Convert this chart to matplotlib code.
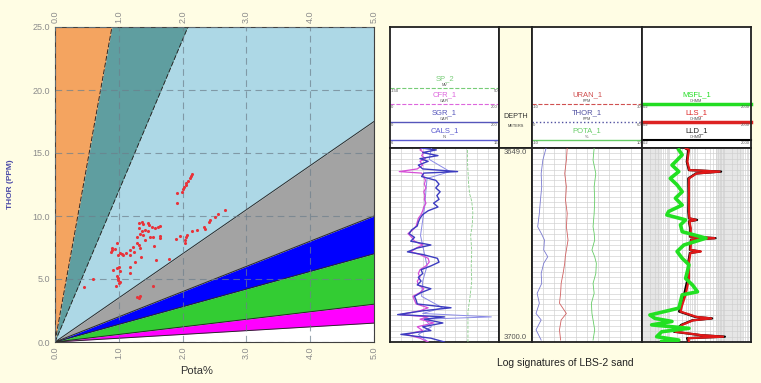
import matplotlib.pyplot as plt
import numpy as np

plt.rcParams['font.family'] = ['Liberation Sans', 'DejaVu Sans']

W, H = 761, 383
BG = '#fffde4'

# ---- Th/K crossplot: zone ratios (Th ppm / K %) and colours, top to bottom
zone_upper = [np.inf, 28.0, 12.0, 3.5, 2.0, 1.4, 0.6, 0.3]
zone_lower = [28.0, 12.0, 3.5, 2.0, 1.4, 0.6, 0.3, 0.0]
zone_colors = ['#f4a460', '#5f9ea0', '#add8e6', '#a3a3a3', '#0000ff',
               '#33cc33', '#ff00ff', '#ffffff']

pota = [2.14, 2.13, 2.11, 2.09, 2.06, 2.05, 2.02, 2.00, 1.99, 1.91, 1.92,
        2.66, 2.56, 2.51, 2.43, 2.41, 2.34, 2.35, 2.22, 2.14, 2.07, 2.06, 2.04, 1.96, 1.90, 2.03,
        1.31, 1.36, 1.38, 1.46, 1.48, 1.52, 1.57, 1.62, 1.65, 1.32, 1.36, 1.41, 1.46, 1.38,
        1.33, 1.29, 1.49, 1.54, 1.65, 1.64, 1.41, 1.28, 1.31, 1.23, 1.18, 1.12, 1.07, 1.05,
        1.18, 1.24, 1.33, 1.35, 1.55, 1.58, 1.79,
        0.89, 0.90, 0.87, 0.94, 0.97, 1.02, 0.99, 0.91, 0.97, 1.01, 1.02, 1.17, 1.17, 1.25,
        0.97, 0.99, 0.98, 1.02, 1.01, 0.96, 0.60, 0.45, 1.54, 1.28, 1.33, 1.31]
thor = [13.31, 13.18, 13.0, 12.81, 12.65, 12.46, 12.33, 12.12, 11.94, 11.8, 11.06,
        10.48, 10.17, 9.95, 9.69, 9.56, 9.16, 8.98, 8.85, 8.77, 8.50, 8.32, 8.11, 8.43, 8.19, 7.89,
        9.43, 9.56, 9.37, 9.48, 9.27, 9.16, 9.03, 9.16, 9.22, 9.03, 8.77, 8.85, 8.77, 8.50,
        8.58, 8.37, 8.37, 8.32, 8.43, 8.29, 8.11, 7.89, 7.71, 7.53, 7.31, 7.10, 6.92, 7.0,
        6.92, 7.18, 7.45, 6.78, 7.63, 6.52, 6.62,
        7.45, 7.31, 7.18, 7.37, 7.84, 7.05, 6.92, 5.73, 5.86, 5.94, 5.60, 5.99, 5.47, 6.31,
        5.20, 5.07, 4.94, 4.80, 4.68, 4.46, 5.0, 4.4, 4.41, 3.61, 3.67, 3.49]

# ---- log track 1
t1_depth = [3649.0, 3649.5, 3650.2, 3651.0, 3651.8, 3652.5, 3653.5, 3654.5, 3655.2, 3655.6,
            3656.5, 3657.5, 3658.5, 3659.5, 3660.5, 3661.5, 3662.5, 3663.5, 3664.5, 3665.5,
            3666.5, 3667.5, 3668.5, 3669.5, 3670.5, 3671.5, 3672.5, 3673.5, 3674.5, 3675.3,
            3676.3, 3677.0, 3678.0, 3679.0, 3680.0, 3681.0, 3682.0, 3683.0, 3684.0, 3685.0,
            3686.0, 3687.0, 3688.0, 3689.0, 3690.0, 3691.0, 3691.8, 3692.8, 3693.4, 3694.0,
            3695.0, 3696.0, 3697.0, 3698.0, 3699.0, 3700.0]
sgr = [57, 85, 60, 88, 55, 70, 52, 60, 124, 62, 58, 84, 90, 84, 92, 86, 90, 80, 88, 70,
       60, 55, 52, 50, 40, 35, 45, 38, 75, 50, 32, 60, 87, 90, 75, 57, 60, 52, 57, 50,
       75, 57, 45, 48, 50, 112, 60, 14, 100, 63, 97, 60, 75, 20, 75, 100]
cfr = [60, 55, 62, 58, 65, 55, 60, 50, 17, 58, 62, 65, 63, 66, 62, 64, 63, 66, 62, 60,
       57, 52, 50, 48, 42, 33, 40, 45, 60, 48, 38, 55, 70, 72, 66, 55, 52, 55, 50, 52,
       62, 55, 42, 45, 48, 70, 55, 18, 70, 55, 80, 50, 60, 30, 55, 70]
cals_depth = [3649, 3652, 3655.2, 3657, 3660, 3664, 3668, 3672, 3676, 3680, 3684, 3688,
              3691, 3692.5, 3693.4, 3694, 3696, 3698, 3700]
cals = [9.8, 9.6, 11.5, 9.4, 9.3, 9.2, 9.0, 8.8, 9.1, 9.4, 9.0, 8.9, 10.8, 9.0, 15.3,
        9.2, 9.8, 8.6, 9.5]
sp_depth = [3649.5, 3652, 3655, 3658, 3661, 3663, 3666, 3669, 3672, 3676, 3680, 3684,
            3688, 3692, 3696, 3700]
sp = [-8, -8, -7, -6, -4, 0, 2, 1, -2, 0, -1, 0, -3, -7, -7, -7]

# ---- log track 2
t2_depth = [3649.0, 3652.2, 3655.7, 3659.2, 3662.7, 3666.2, 3669.7, 3671.4, 3673.2, 3675.8,
            3677.6, 3679.3, 3682.0, 3684.6, 3687.2, 3689.8, 3692.5, 3694.2, 3696.8, 3699.5]
thor_log = [7.7, 5.9, 5.0, 5.3, 4.6, 4.0, 3.1, 5.0, 6.8, 6.4, 8.6, 6.4, 5.0, 5.3, 2.8,
            4.0, 2.2, 5.0, 2.2, 5.0]
uran = [2.8, 2.5, 1.9, 2.5, 2.2, 2.8, 2.5, 2.8, 3.1, 2.5, 2.1, 1.9, 1.3, 0.6, 0.4, 0.0,
        2.5, 0.6, 0.0, 0.4]
pota_log = [1.3, 1.1, 1.6, 1.3, 1.4, 1.3, 1.1, 1.3, 1.4, 0.9, 1.4, 1.7, 1.6, 1.1, 1.3,
            0.8, 0.9, 1.1, 1.4, 1.1]

# ---- log track 3 (resistivity)
rt_depth = [3649.0, 3649.5, 3652.6, 3654.8, 3655.2, 3655.7, 3657.0, 3661.4, 3665.7, 3667.5,
            3667.9, 3668.3, 3670.1, 3672.3, 3672.7, 3673.1, 3674.5, 3675.8, 3676.2, 3676.6,
            3678.9, 3683.3, 3687.6, 3690.3, 3692.0, 3693.4, 3693.8, 3694.3, 3695.5, 3697.3,
            3698.2, 3698.6, 3699.0, 3700.0]
lls = [8.0, 10.6, 9.2, 11, 141, 20, 10.6, 10.6, 10.6, 11, 19, 11, 12.3, 12, 92, 13, 12.3,
       12, 29, 12, 10.6, 10.6, 7.96, 5.97, 5.17, 20, 69, 15, 5.97, 3.36, 30, 189, 10, 10.6]
lld = [7.5, 10.0, 8.8, 10.5, 160, 19, 10.0, 10.2, 10.0, 10.5, 21, 10.5, 11.8, 11.5, 100,
       12.5, 11.8, 11.5, 27, 11.5, 10.0, 9.5, 7.0, 5.2, 4.6, 18, 75, 14, 5.5, 3.0, 28, 220, 9, 10]
msfl_depth = [3649.5, 3650.8, 3652.6, 3653.5, 3655.2, 3657.0, 3658.7, 3660.5, 3662.2, 3664.0,
              3665.7, 3666.6, 3667.9, 3669.2, 3671.0, 3672.7, 3674.5, 3676.2, 3678.0, 3679.7,
              3681.5, 3683.3, 3685.0, 3686.8, 3687.6, 3689.4, 3691.1, 3692.9, 3693.8, 3694.6,
              3695.5, 3696.4, 3697.3, 3698.6, 3699.5, 3699.9]
msfl = [4.48, 5.97, 3.4, 2.52, 4.48, 2.18, 3.88, 5.97, 3.36, 5.97, 1.89, 1.63, 7.96, 5.17,
        5.97, 44.8, 6.89, 3.88, 5.97, 10.6, 9.2, 7.96, 14.2, 21.8, 5.97, 5.17, 4.48, 0.39,
        0.60, 2.52, 0.45, 10.6, 1.06, 0.69, 4.48, 1.06]

# header entries: name, unit, left, right, colour, style, width
track1_hdr = [('SP_2', 'MV', '-150', '50', '#77cc77', '--', 0.8),
              ('CFR_1', 'GAPI', '0', '200', '#dd66dd', '--', 0.8),
              ('SGR_1', 'GAPI', '0', '200', '#5555bb', '-', 1.0),
              ('CALS_1', 'IN', '6', '16', '#5a5ad0', '-', 1.0)]
track2_hdr = [('URAN_1', 'PPM', '-10', '30', '#d05050', '--', 0.8),
              ('THOR_1', 'PPM', '0', '60', '#5050a0', ':', 1.0),
              ('POTA_1', '%', '-10', '10', '#66cc66', '-', 1.0)]
track3_hdr = [('MSFL_1', 'OHMM', '0.2', '2000', '#22dd22', '-', 2.5),
              ('LLS_1', 'OHMM', '0.2', '2000', '#dd2222', '-', 2.5),
              ('LLD_1', 'OHMM', '0.2', '2000', 'black', '-', 1.5)]


def px_rect(x0, y0, x1, y1):
    return [x0 / W, 1 - y1 / H, (x1 - x0) / W, (y1 - y0) / H]


fig = plt.figure(figsize=(W / 100, H / 100), dpi=100)
fig.patch.set_facecolor(BG)

# ================= crossplot =================
ax = fig.add_axes(px_rect(55, 27, 374, 342))
x = np.linspace(0, 5, 1001)
for up, lo, col in zip(zone_upper, zone_lower, zone_colors):
    yhi = np.full_like(x, 25.0) if np.isinf(up) else np.minimum(up * x, 25)
    ylo = np.minimum(lo * x, 25)
    ax.fill_between(x, ylo, yhi, color=col, lw=0, zorder=1)
for r in zone_lower[:-1]:
    ls = (0, (5, 2)) if r > 10 else '-'
    ax.plot(x, r * x, color='#2a2a2a', lw=0.7, ls=ls, zorder=2)
ax.scatter(pota, thor, s=5, color='#e8333a', lw=0, zorder=4)
ax.set_xlim(0, 5)
ax.set_ylim(0, 25)
ax.set_xticks(np.arange(0, 5.1, 1))
ax.set_yticks(np.arange(0, 25.1, 5))
ax.xaxis.set_major_formatter('{x:.1f}')
ax.yaxis.set_major_formatter('{x:.1f}')
ax.set_axisbelow(False)
ax.grid(True, ls=(0, (6, 4)), color='#6d7f8c', lw=0.8, alpha=0.7)
ax.tick_params(axis='both', length=0, labelsize=6.5, labelcolor='#8c8c8c')
ax.tick_params(axis='x', top=True, labeltop=True, labelrotation=90, pad=3)
for s in ax.spines.values():
    s.set_color('#404040')
    s.set_linewidth(0.8)
ax.set_xlabel('Pota%', fontsize=8, color='#333333')
ax.xaxis.set_label_coords(0.445, -0.075)
ax.set_ylabel('THOR (PPM)', fontsize=6, color='#4b4ba8', fontweight='bold')
ax.yaxis.set_label_coords(-0.13, 0.5)

# ================= log panel =================
cols = [(390, 499), (499, 532), (532, 642), (642, 751)]
hdr_top, hdr_bot, dat_bot = 27, 148, 342
rows = [0.496, 0.364, 0.215, 0.066]
depth_grid = np.linspace(3649, 3700, 37)

hdr_axes, dat_axes = [], []
for i, (c0, c1) in enumerate(cols):
    face = BG if i == 1 else 'white'
    ha_ = fig.add_axes(px_rect(c0, hdr_top, c1, hdr_bot))
    da_ = fig.add_axes(px_rect(c0, hdr_bot, c1, dat_bot))
    for a in (ha_, da_):
        a.set_facecolor(face)
        a.set_xticks([])
        a.set_yticks([])
        for s in a.spines.values():
            s.set_linewidth(1.3)
            s.set_color('#202020')
    ha_.set_xlim(0, 1)
    ha_.set_ylim(0, 1)
    da_.set_ylim(3700, 3649)
    hdr_axes.append(ha_)
    dat_axes.append(da_)


def draw_header(a, entries, ys):
    for (name, unit, lo, hi, col, ls, lw), yy in zip(entries, ys):
        a.plot([0, 1], [yy, yy], color=col, ls=ls, lw=lw, clip_on=False)
        a.text(0.5, yy + 0.05, name, fontsize=5.5, color=col if col != 'black' else '#222222',
               ha='center', va='bottom')
        a.text(0.5, yy + 0.008, unit, fontsize=2.8, color='#555555', ha='center', va='bottom')
        a.text(0.01, yy - 0.008, lo, fontsize=3, color='#555555', ha='left', va='top')
        a.text(0.99, yy - 0.008, hi, fontsize=3, color='#555555', ha='right', va='top')


draw_header(hdr_axes[0], track1_hdr, rows)
draw_header(hdr_axes[2], track2_hdr, rows[1:])
draw_header(hdr_axes[3], track3_hdr, rows[1:])
hdr_axes[1].text(0.5, 0.235, 'DEPTH', fontsize=5.2, ha='center', va='bottom', color='#333333')
hdr_axes[1].text(0.5, 0.2, 'METERS', fontsize=2.8, ha='center', va='top', color='#333333')

# depth track
d = dat_axes[1]
d.set_xlim(0, 1)
d.text(0.5, 3649.2, '3649.0', fontsize=5.5, ha='center', va='top', color='#555555')
d.text(0.5, 3699.8, '3700.0', fontsize=5.5, ha='center', va='bottom', color='#555555')


def linear_track(a, rect, curves):
    a.set_xlim(0, 1)
    for gx in np.linspace(0, 1, 11):
        a.axvline(gx, color='#cfcfcf', lw=0.45, zorder=0)
    for gy in depth_grid:
        a.axhline(gy, color='#cfcfcf', lw=0.45, zorder=0)
    for depth, vals, lo, hi, col, ls, lw in curves:
        c = fig.add_axes(rect, sharey=a)
        c.patch.set_visible(False)
        c.set_xlim(lo, hi)
        c.plot(vals, depth, color=col, ls=ls, lw=lw)
        c.set_axis_off()


linear_track(dat_axes[0], px_rect(390, hdr_bot, 499, dat_bot), [
    (sp_depth, sp, -150, 50, '#88cc88', '--', 0.6),
    (cals_depth, cals, 6, 16, '#8a8ae6', '-', 0.7),
    (t1_depth, cfr, 0, 200, '#d64ed6', '-', 0.9),
    (t1_depth, sgr, 0, 200, '#3c3cc0', '-', 1.0),
])
linear_track(dat_axes[2], px_rect(532, hdr_bot, 642, dat_bot), [
    (t2_depth, thor_log, 0, 60, '#7a7ad0', '-', 0.6),
    (t2_depth, uran, -10, 30, '#d06060', '-', 0.6),
    (t2_depth, pota_log, -10, 10, '#66cc66', '-', 0.6),
])

# resistivity track
r = dat_axes[3]
r.set_xscale('log')
r.set_xlim(0.2, 2000)
r.axvspan(0.2, 1, color='#e6e6e6', lw=0, zorder=0)
r.axvspan(100, 1000, color='#e6e6e6', lw=0, zorder=0)
for dec in [0.2, 2, 20, 200]:
    for k in range(1, 10):
        r.axvline(dec * k, color='#cfcfcf', lw=0.45, zorder=0.5)
for gy in depth_grid:
    r.axhline(gy, color='#cfcfcf', lw=0.45, zorder=0.5)
r.plot(lld, rt_depth, color='black', lw=1.6, zorder=2)
r.plot(lls, rt_depth, color='#e01818', lw=1.6, zorder=3)
r.plot(msfl, msfl_depth, color='#22e022', lw=2.6, zorder=4)
r.set_xticks([])
r.set_xticks([], minor=True)
r.set_yticks([])

fig.text(565 / W, 1 - 363 / H, 'Log signatures of LBS-2 sand', fontsize=7.5,
         ha='center', va='center', color='#222222')

fig.savefig('out.png', dpi=100, facecolor=BG)
